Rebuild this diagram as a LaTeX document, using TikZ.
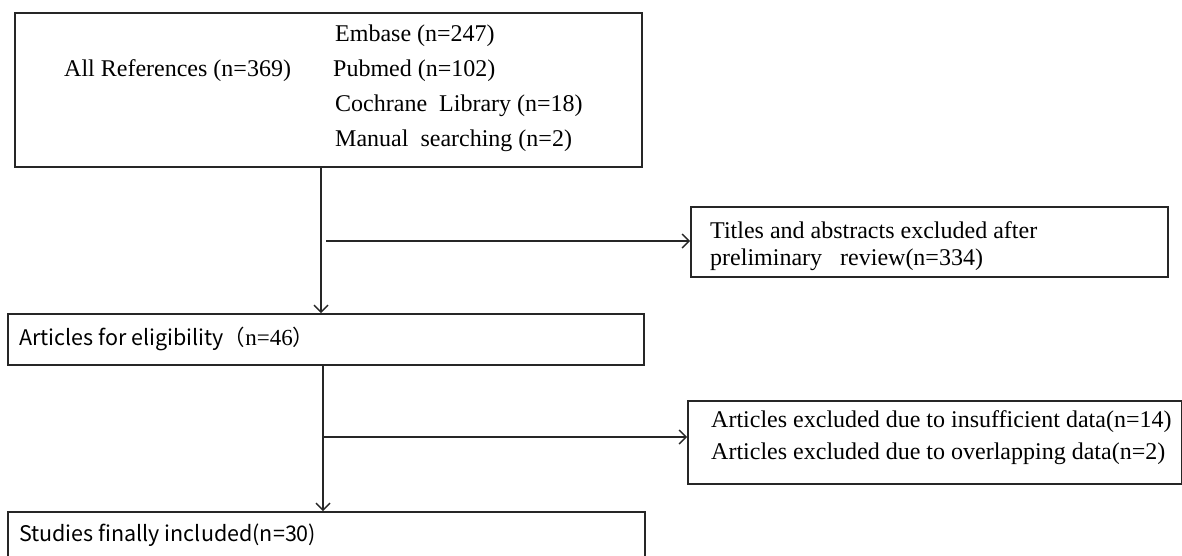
\documentclass[tikz,border=0pt]{standalone}
\usepackage{fontspec}
\setmainfont{Liberation Serif}
\newfontfamily\cjkfont{Noto Sans CJK SC}
\usetikzlibrary{arrows.meta}
\begin{document}
\begin{tikzpicture}[x=1pt,y=-1pt,
  box/.style={draw=black!85, line width=1.8pt, rectangle, inner sep=0pt, anchor=north west},
  conn/.style={draw=black!85, line width=1.5pt},
  arr/.style={conn, -{Straight Barb[length=7pt,width=14pt,line width=1.4pt]}},
  topt/.style={anchor=base west, inner sep=0pt, font=\fontsize{24}{29}\selectfont},
  rt/.style={anchor=base west, inner sep=0pt, font=\fontsize{24}{29}\selectfont},
  st/.style={anchor=base west, inner sep=0pt, font=\cjkfont\fontsize{21.5}{26}\selectfont}]
\useasboundingbox[fill=white] (0,0) rectangle (1182,555);
% boxes
\node[box, minimum width=627pt, minimum height=154pt] (top) at (14,12) {};
\node[box, minimum width=477pt, minimum height=70pt] (titles) at (690,206) {};
\node[box, minimum width=636pt, minimum height=51pt] (art) at (7,313) {};
\node[box, minimum width=494pt, minimum height=83pt] (excl) at (687,400) {};
\node[box, minimum width=637pt, minimum height=80pt] (stud) at (7,511) {};
% texts
\node[topt] (allref) at (64,76) {All References (n=369)};
\node[topt] (emb) at (335,41) {Embase (n=247)};
\node[topt] (pub) at (333,76) {Pubmed (n=102)};
\node[topt] (coch) at (335,111) {Cochrane\ \ Library (n=18)};
\node[topt] (man) at (335,146) {Manual\ \ searching (n=2)};
\node[rt] (t1) at (710,238) {Titles and abstracts excluded after};
\node[rt] (t2) at (710,265) {preliminary\ \ \ review(n=334)};
\node[st] (artt) at (19,345) {Articles for eligibility（{\rmfamily\fontsize{23}{27}\selectfont n=46}）};
\node[rt] (e1) at (711,427) {Articles excluded due to insufficient data(n=14)};
\node[rt] (e2) at (711,459) {Articles excluded due to overlapping data(n=2)};
\node[st] (studt) at (19,541) {Studies finally included(n=30)};
% connectors
\coordinate (v1) at (321,0);
\coordinate (v2) at (323,0);
\coordinate (b1) at (326,241);
\coordinate (b2) at (323,437);
\draw[arr] (top.south -| v1) -- (art.north -| v1);
\draw[arr] (b1) -- (titles.west |- b1);
\draw[arr] (art.south -| v2) -- (stud.north -| v2);
\draw[arr] (b2) -- (excl.west |- b2);
\end{tikzpicture}
\end{document}
